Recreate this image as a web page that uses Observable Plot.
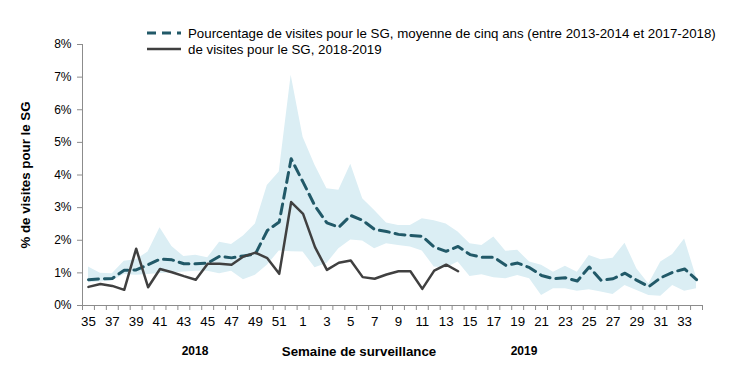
<!DOCTYPE html>
<html><head><meta charset="utf-8">
<script src="https://cdn.jsdelivr.net/npm/d3@7"></script>
<script src="https://cdn.jsdelivr.net/npm/@observablehq/plot@0.6"></script>
<style>
body{margin:0;background:#fff;font-family:"Liberation Sans",Arial,sans-serif;}
#wrap{position:relative;width:750px;height:378px;overflow:hidden;}
.lg{position:absolute;left:146px;font-size:13.3px;color:#000;display:flex;align-items:center;white-space:nowrap;height:14px;}
.lg svg{margin-right:6px;}
.lab{position:absolute;font-weight:bold;font-size:12px;transform:translate(-50%,-50%);white-space:nowrap;color:#000;}
.ylab{position:absolute;font-weight:bold;font-size:13.3px;white-space:nowrap;transform:translate(-50%,-50%) rotate(-90deg);color:#000;}
.xt text{font-family:"Liberation Sans Narrow","Arial Narrow","Liberation Sans",Arial,sans-serif;font-size:13.3px;}
</style></head><body><div id="wrap"></div>
<script>
const weeks = [35,36,37,38,39,40,41,42,43,44,45,46,47,48,49,50,51,52,1,2,3,4,5,6,7,8,9,10,11,12,13,14,15,16,17,18,19,20,21,22,23,24,25,26,27,28,29,30,31,32,33,34];
const mean5 = [0.79,0.82,0.83,1.08,1.09,1.25,1.42,1.40,1.28,1.28,1.30,1.51,1.46,1.52,1.58,2.30,2.56,4.50,3.78,3.05,2.53,2.40,2.76,2.61,2.33,2.27,2.18,2.15,2.12,1.79,1.66,1.81,1.56,1.48,1.48,1.23,1.30,1.16,0.92,0.82,0.85,0.75,1.18,0.77,0.82,0.99,0.77,0.58,0.85,1.02,1.12,0.79];
const upper = [1.18,0.99,0.97,1.36,1.40,1.64,2.38,1.81,1.50,1.54,1.46,1.94,1.87,2.13,2.50,3.68,4.09,7.06,5.16,4.30,3.58,3.53,4.33,3.27,2.91,2.53,2.45,2.45,2.66,2.60,2.50,2.25,1.89,1.84,2.10,1.66,1.69,1.33,1.23,1.02,1.20,1.02,1.53,1.40,1.45,1.91,1.12,0.66,1.33,1.56,2.04,0.85];
const lower = [0.70,0.72,0.75,0.95,0.93,0.95,0.98,1.00,1.03,1.05,1.05,0.97,1.05,0.79,0.93,1.23,1.67,1.65,1.64,1.16,1.29,1.74,2.01,1.98,1.74,1.89,1.84,1.79,1.67,1.18,1.15,1.33,0.89,0.94,0.85,0.82,0.92,0.82,0.31,0.51,0.51,0.44,0.48,0.41,0.34,0.61,0.46,0.31,0.28,0.61,0.44,0.51];
const current = [0.57,0.66,0.60,0.48,1.74,0.56,1.12,1.02,0.90,0.79,1.28,1.28,1.25,1.50,1.62,1.45,0.97,3.17,2.81,1.79,1.09,1.31,1.38,0.87,0.82,0.95,1.05,1.05,0.51,1.07,1.25,1.05];
const yTicks = [0,1,2,3,4,5,6,7,8];
const legendMean = "Pourcentage de visites pour le SG, moyenne de cinq ans (entre 2013-2014 et 2017-2018)";
const legendCur = "de visites pour le SG, 2018-2019";
const yLabel = "% de visites pour le SG";
const xLabel = "Semaine de surveillance";
const yearLabels = ["2018", "2019"];

const rows = weeks.map((w, i) => ({i, week: w, mean: mean5[i], hi: upper[i], lo: lower[i], cur: i < current.length ? current[i] : null}));
const boundaries = d3.range(-0.5, weeks.length, 1);
const labelIdx = d3.range(0, weeks.length, 2);
const axisColor = "#8c8c8c";
const meanColor = "#215968";
const curColor = "#404040";

const chart = Plot.plot({
  width: 750, height: 378,
  marginLeft: 82, marginRight: 48, marginTop: 44, marginBottom: 73,
  style: {fontFamily: "'Liberation Sans', Arial, sans-serif", fontSize: "12px", background: "transparent", color: "#000"},
  x: {type: "linear", domain: [-0.5, weeks.length - 0.5]},
  y: {domain: [0, 8]},
  marks: [
    Plot.areaY(rows, {x: "i", y1: "lo", y2: "hi", fill: "#dbeef4"}),
    Plot.ruleX([-0.5], {stroke: axisColor}),
    Plot.ruleY([0], {stroke: axisColor}),
    Plot.axisY({ticks: yTicks, tickSize: 5, tickPadding: 6, tickFormat: d => d + "%", label: null, stroke: axisColor}),
    Plot.axisX({ticks: boundaries, tickSize: 5, tickFormat: () => "", label: null, stroke: axisColor}),
    Plot.axisX({ticks: labelIdx, tickSize: 0, tickPadding: 11, tickFormat: i => String(weeks[i]), label: null, className: "xt"}),
    Plot.lineY(rows, {x: "i", y: "mean", stroke: meanColor, strokeWidth: 3, strokeDasharray: "10,6"}),
    Plot.lineY(rows.filter(d => d.cur != null), {x: "i", y: "cur", stroke: curColor, strokeWidth: 2.5})
  ]
});

const wrap = document.getElementById("wrap");
wrap.appendChild(chart);

function addDiv(cls, text, css) {
  const d = document.createElement("div");
  d.className = cls;
  d.textContent = text;
  Object.assign(d.style, css);
  wrap.appendChild(d);
  return d;
}
function legendRow(top, dashed, text) {
  const d = document.createElement("div");
  d.className = "lg";
  d.style.top = top + "px";
  d.innerHTML = `<svg width="36" height="6"><line x1="1" x2="35" y1="3" y2="3" stroke="${dashed ? meanColor : curColor}" stroke-width="${dashed ? 3 : 2.5}" ${dashed ? 'stroke-dasharray="9,6"' : ''}/></svg>`;
  const s = document.createElement("span");
  s.textContent = text;
  d.appendChild(s);
  wrap.appendChild(d);
}
legendRow(26, true, legendMean);
legendRow(42, false, legendCur);

addDiv("ylab", yLabel, {left: "25px", top: "175px"});
addDiv("lab", yearLabels[0], {left: "195px", top: "351px"});
addDiv("lab", xLabel, {left: "359px", top: "351px", fontSize: "13.3px"});
addDiv("lab", yearLabels[1], {left: "524px", top: "351px"});
</script>
</body></html>
